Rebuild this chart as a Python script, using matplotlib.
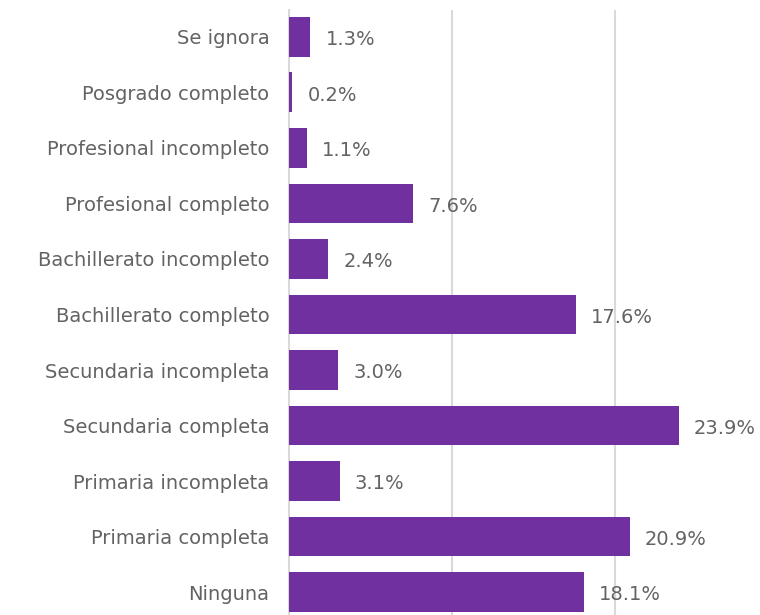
import matplotlib
matplotlib.use("Agg")
import matplotlib.pyplot as plt

categories = ["Ninguna", "Primaria completa", "Primaria incompleta", "Secundaria completa",
              "Secundaria incompleta", "Bachillerato completo", "Bachillerato incompleto",
              "Profesional completo", "Profesional incompleto", "Posgrado completo", "Se ignora"]
values = [18.1, 20.9, 3.1, 23.9, 3.0, 17.6, 2.4, 7.6, 1.1, 0.2, 1.3]
value_labels = ["18.1%", "20.9%", "3.1%", "23.9%", "3.0%", "17.6%", "2.4%", "7.6%", "1.1%", "0.2%", "1.3%"]

plt.rcParams['font.family'] = ['DejaVu Sans']
W, H = 760, 615
fig = plt.figure(figsize=(W/100, H/100), dpi=100)
ax = fig.add_axes([289/W, 0, 1 - 289/W, 1 - 10/H])

text_color = "#636363"
grid_color = "#d9d9d9"
bar_color = "#7030a0"

y = list(range(len(categories)))
ax.barh(y, values, height=0.72, color=bar_color, zorder=3)
for yi, v, lab in zip(y, values, value_labels):
    ax.annotate(lab, (v, yi), xytext=(11, -2), textcoords="offset points",
                va="center", ha="left", fontsize=14, color=text_color)

ax.set_xlim(0, (W - 289) / 16.3)
ax.set_ylim(-0.414, 10.486)
ax.set_yticks(y)
ax.set_yticklabels(categories, fontsize=14, color=text_color)
ax.tick_params(axis='y', length=0, pad=14)
ax.set_xticks([10, 20])
ax.tick_params(axis='x', length=0, labelbottom=False)
ax.grid(axis='x', color=grid_color, linewidth=1.5, zorder=0)
for s in ["top", "right", "bottom"]:
    ax.spines[s].set_visible(False)
ax.spines["left"].set_color(grid_color)
ax.spines["left"].set_linewidth(1.5)

fig.savefig("out.png", dpi=100)
